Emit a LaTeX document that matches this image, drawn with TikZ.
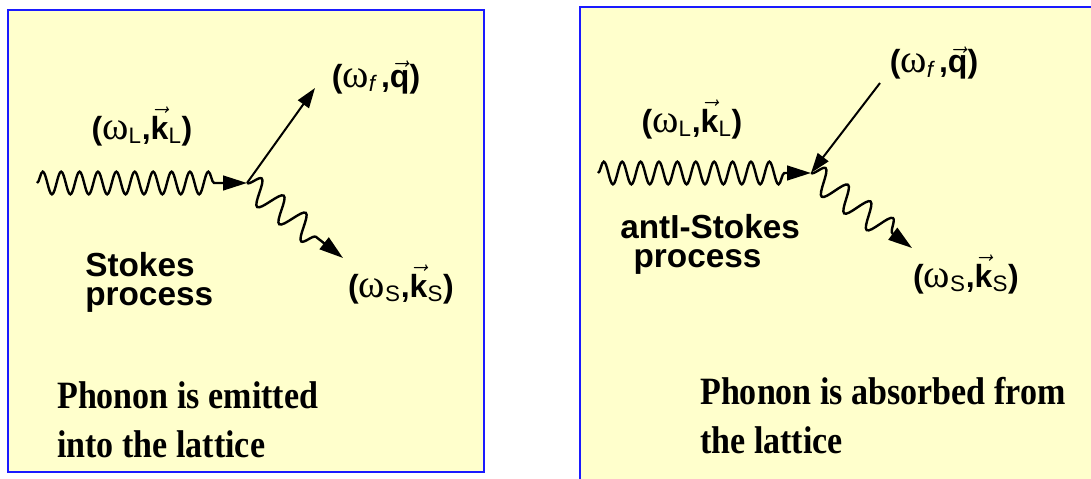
\documentclass[tikz,border=0pt]{standalone}
\usepackage{fontspec}
\setmainfont{Liberation Serif}
\setsansfont{Liberation Sans}
\usepackage{graphicx}
\usetikzlibrary{arrows.meta,positioning,decorations.pathmorphing}
\definecolor{paneyellow}{HTML}{FFFFCC}
\definecolor{paneblue}{HTML}{1A1AFF}

\newcommand{\wsub}[1]{{\rmfamily\mdseries\fontsize{30}{30}\selectfont ω}\textsubscript{\sffamily\mdseries #1}}
\newcommand{\vecb}[1]{$\vec{\mbox{\sffamily\bfseries #1}}$}
\newcommand{\twolines}[2]{\vtop{\hbox{#1}\hbox{#2}}}
\newcommand{\squeeze}[1]{\scalebox{0.88}[1]{#1}}

\begin{document}
\begin{tikzpicture}[
        x=0.75pt, y=-0.75pt,
        pane/.style={draw=paneblue,line width=2pt,fill=paneyellow},
        photon/.style={line width=1.8pt,decorate,
            decoration={snake,amplitude=8.5pt,segment length=13.8pt,post length=18pt},
            -{Triangle[length=18pt,width=11pt]}},
        scattered/.style={photon,
            decoration={snake,amplitude=9.5pt,segment length=21pt,post length=18pt}},
        phonon/.style={line width=1.5pt,-{Triangle[length=15pt,width=10pt]}},
        wavelabel/.style={font=\sffamily\bfseries\fontsize{24}{28}\selectfont,inner sep=0pt,anchor=base},
        procname/.style={font=\sffamily\bfseries\fontsize{25}{22}\selectfont,inner sep=0pt,anchor=base west},
        caption/.style={font=\rmfamily\bfseries\fontsize{29}{37}\selectfont,inner sep=0pt,anchor=base west}
    ]
        \clip (0,0) rectangle (1091,478);
        \fill[white] (0,0) rectangle (1091,478);

        % Stokes
        \draw[pane] (8,10) rectangle (484,472);
        \coordinate (inS) at (37,183);
        \coordinate (vxS) at (247,183);
        \coordinate (phS) at (315,88);
        \coordinate (outS) at (343,258);

        \draw[photon] (inS) -- (vxS);
        \draw[phonon] (vxS) -- (phS);
        \draw[scattered] (vxS) -- (outS);

        \node[wavelabel] (laserS) at (142,139) {(\wsub{L},\vecb{k}\textsubscript{\mdseries L})};
        \node[wavelabel] (qS) at (376,87) {(\wsub{\itshape f}\,,\vecb{q})};
        \node[wavelabel] (scatS) at (401,297) {(\wsub{S},\vecb{k}\textsubscript{\mdseries S})};
        \node[procname] (stokes) at (85,276) {\twolines{Stokes}{process}};
        \node[caption] (emitted) at (57,408) {\squeeze{\twolines{Phonon is emitted}{into the lattice}}};

        % anti-Stokes
        \draw[pane] (580,7) rectangle (1100,490);
        \coordinate (inA) at (598,173);
        \coordinate (vxA) at (811,173);
        \coordinate (phA) at (880,83);
        \coordinate (outA) at (912,248);

        \draw[photon] (inA) -- (vxA);
        \draw[phonon] (phA) -- (vxA);
        \draw[scattered] (vxA) -- (outA);

        \node[wavelabel] (laserA) at (692,132) {(\wsub{L},\vecb{k}\textsubscript{\mdseries L})};
        \node[wavelabel] (qA) at (934,73) {(\wsub{\itshape f}\,,\vecb{q})};
        \node[wavelabel] (scatA) at (966,287) {(\wsub{S},\vecb{k}\textsubscript{\mdseries S})};
        \node[procname] (antistokes) at (620,238) {\twolines{antI-Stokes}{\hskip10pt process}};
        \node[caption] (absorbed) at (700,404) {\squeeze{\twolines{Phonon is absorbed from}{the lattice}}};
    \end{tikzpicture}
\end{document}
